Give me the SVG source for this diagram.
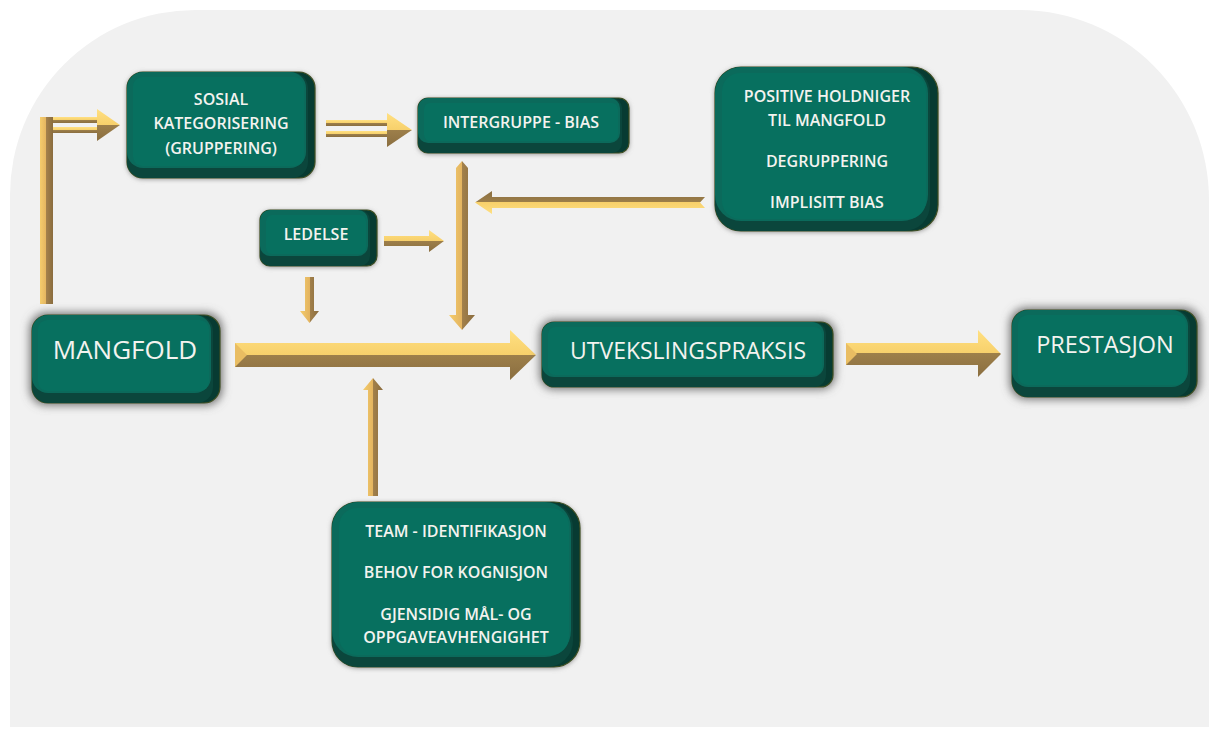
<svg xmlns="http://www.w3.org/2000/svg" width="1209" height="729" viewBox="0 0 1209 729">
<defs>
<style>
.bg{fill:#f1f1f1}
.outer{fill:#073b32;stroke:#3f4f22;stroke-width:1.2}
.bot{fill:#0b463c}
.mid{fill:#0b6a5b}
.face{fill:#07705f}
.sh{fill:#6a6a6a;filter:url(#blur)}
.sh2{fill:#8a8a8a;filter:url(#blur2)}
text{font-family:"Open Sans","DejaVu Sans",sans-serif;font-weight:600;fill:#f3f3ef;text-anchor:middle}
.s{font-size:16px}
.l{font-size:26px;font-weight:500}
.gh{fill:url(#gh)}
.ghr{fill:url(#ghr)}
.gv{fill:url(#gv)}
.bev{fill:#e9bd62}
</style>
<filter id="blur" x="-20%" y="-30%" width="140%" height="160%"><feGaussianBlur stdDeviation="5"/></filter>
<filter id="blur2" x="-20%" y="-30%" width="140%" height="160%"><feGaussianBlur stdDeviation="2.5"/></filter>
<linearGradient id="gh" x1="0" y1="0" x2="0" y2="1">
<stop offset="0" stop-color="#ffe082"/><stop offset="0.5" stop-color="#f7d06b"/><stop offset="0.5" stop-color="#9d7f4a"/><stop offset="1" stop-color="#8a6e40"/>
</linearGradient>
<linearGradient id="ghr" x1="0" y1="0" x2="0" y2="1">
<stop offset="0" stop-color="#8a6e40"/><stop offset="0.5" stop-color="#9d7f4a"/><stop offset="0.5" stop-color="#f7d06b"/><stop offset="1" stop-color="#ffe082"/>
</linearGradient>
<linearGradient id="gv" x1="0" y1="0" x2="1" y2="0">
<stop offset="0" stop-color="#f5cd6c"/><stop offset="0.5" stop-color="#e3b460"/><stop offset="0.5" stop-color="#a3814b"/><stop offset="1" stop-color="#8a6c3e"/>
</linearGradient>
</defs>

<path class="bg" d="M10,727 V195 A185,185 0 0 1 195,10 H1020 A189,190 0 0 1 1209,200 V727 Z"/>

<g id="connectors">
<rect class="gv" x="40" y="117" width="13" height="187"/>
<rect class="gh" x="53" y="117" width="45" height="6"/>
<rect class="gh" x="53" y="127" width="45" height="6"/>
<polygon class="gh" points="97,109 120,125 97,141"/>
<rect class="gh" x="326" y="120" width="61" height="6"/>
<rect class="gh" x="326" y="131" width="61" height="6"/>
<polygon class="gh" points="387,113 412,130 387,147"/>
<polygon class="gv" points="456,168 462,161 468,168 468,315 475,315 462,330 449,315 456,315"/>
<polygon class="ghr" points="705,197 492,197 492,191 475,202.5 492,214 492,208 705,208 700,202.5"/>
<polygon class="gh" points="384,236 429,236 429,230 444,241 429,252 429,246 384,246"/>
<polygon class="gv" points="305,277 314,277 314,311 319,311 309.5,323 300,311 305,311"/>
<polygon class="gv" points="368,496 378,496 378,390 383,390 373,378 363,390 368,390"/>
<polygon class="gh" points="235,343 510,343 510,330 536,355 510,380 510,367 235,367"/>
<polygon class="bev" points="235,343 247,355 235,367"/>
<polygon class="gh" points="846,343 978,343 978,330 1001,354 978,377 978,365 846,365"/>
<polygon class="bev" points="846,343 857,354 846,365"/>
</g>

<g id="sosial">
<rect class="sh2" x="127" y="73" width="188" height="106" rx="16"/>
<rect class="outer" x="127" y="72" width="188" height="106" rx="16"/>
<rect class="bot" x="127" y="72" width="181" height="106" rx="16"/>
<rect class="mid" x="127" y="72" width="179" height="96" rx="16"/>
<rect class="face" x="133" y="77" width="171" height="89" rx="9"/>
<text class="s" x="221" y="105">SOSIAL</text>
<text class="s" x="221" y="129">KATEGORISERING</text>
<text class="s" x="221" y="154">(GRUPPERING)</text>
</g>

<g id="intergruppe">
<rect class="sh2" x="418" y="99" width="211" height="55" rx="10"/>
<rect class="outer" x="418" y="98" width="211" height="55" rx="10"/>
<rect class="bot" x="418" y="98" width="204" height="55" rx="10"/>
<rect class="mid" x="418" y="98" width="202" height="45" rx="10"/>
<rect class="face" x="424" y="103" width="194" height="38" rx="6"/>
<text class="s" x="521" y="128">INTERGRUPPE - BIAS</text>
</g>

<g id="positive">
<rect class="sh2" x="715" y="68" width="223" height="164" rx="26"/>
<rect class="outer" x="715" y="67" width="223" height="164" rx="26"/>
<rect class="bot" x="715" y="67" width="215" height="164" rx="26"/>
<rect class="mid" x="715" y="67" width="213" height="154" rx="26"/>
<rect class="face" x="722" y="73" width="204" height="146" rx="18"/>
<text class="s" x="827" y="102">POSITIVE HOLDNIGER</text>
<text class="s" x="827" y="126">TIL MANGFOLD</text>
<text class="s" x="827" y="167">DEGRUPPERING</text>
<text class="s" x="827" y="208">IMPLISITT BIAS</text>
</g>

<g id="ledelse">
<rect class="sh2" x="260" y="211" width="117" height="56" rx="10"/>
<rect class="outer" x="260" y="210" width="117" height="56" rx="10"/>
<rect class="bot" x="260" y="210" width="110" height="56" rx="10"/>
<rect class="mid" x="260" y="210" width="108" height="46" rx="10"/>
<rect class="face" x="266" y="215" width="100" height="39" rx="6"/>
<text class="s" x="316" y="240">LEDELSE</text>
</g>

<g id="mangfold">
<rect class="sh" x="30" y="313" width="192" height="92" rx="16"/>
<rect class="outer" x="32" y="315" width="188" height="88" rx="16"/>
<rect class="bot" x="32" y="315" width="181" height="88" rx="16"/>
<rect class="mid" x="32" y="315" width="179" height="78" rx="16"/>
<rect class="face" x="38" y="320" width="171" height="71" rx="9"/>
<text class="l" x="125" y="359">MANGFOLD</text>
</g>

<g id="utveksling">
<rect class="sh" x="540" y="320" width="295" height="69" rx="14"/>
<rect class="outer" x="542" y="322" width="291" height="65" rx="12"/>
<rect class="bot" x="542" y="322" width="284" height="65" rx="12"/>
<rect class="mid" x="542" y="322" width="282" height="55" rx="12"/>
<rect class="face" x="548" y="327" width="274" height="48" rx="7"/>
<text class="l" x="688" y="359" style="font-size:23px">UTVEKSLINGSPRAKSIS</text>
</g>

<g id="prestasjon">
<rect class="sh" x="1010" y="308" width="190" height="91" rx="16"/>
<rect class="outer" x="1012" y="310" width="185" height="87" rx="16"/>
<rect class="bot" x="1012" y="310" width="178" height="87" rx="16"/>
<rect class="mid" x="1012" y="310" width="176" height="77" rx="16"/>
<rect class="face" x="1018" y="315" width="168" height="70" rx="9"/>
<text class="l" x="1105" y="353" style="font-size:23.5px">PRESTASJON</text>
</g>

<g id="team">
<rect class="sh2" x="332" y="503" width="248" height="165" rx="26"/>
<rect class="outer" x="332" y="502" width="248" height="165" rx="26"/>
<rect class="bot" x="332" y="502" width="241" height="165" rx="26"/>
<rect class="mid" x="332" y="502" width="239" height="155" rx="26"/>
<rect class="face" x="339" y="508" width="230" height="147" rx="18"/>
<text class="s" x="456" y="537">TEAM - IDENTIFIKASJON</text>
<text class="s" x="456" y="578">BEHOV FOR KOGNISJON</text>
<text class="s" x="456" y="620">GJENSIDIG MÅL- OG</text>
<text class="s" x="456" y="643">OPPGAVEAVHENGIGHET</text>
</g>
</svg>
